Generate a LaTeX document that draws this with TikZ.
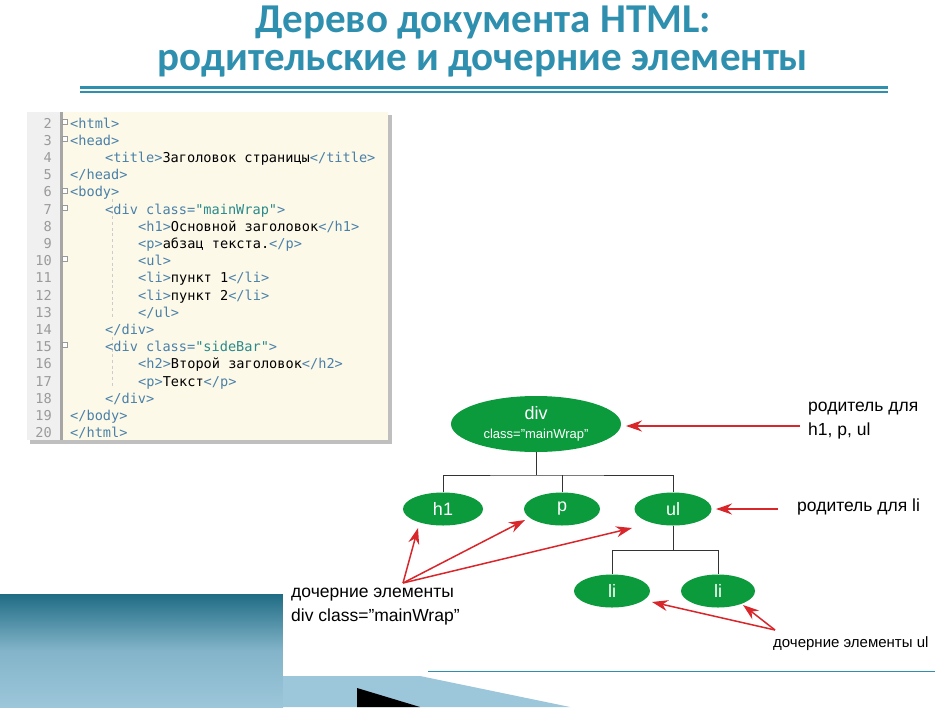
\documentclass[tikz,border=0pt]{standalone}
\usepackage{fontspec}
\setmainfont{Liberation Sans}
\newfontfamily\ttl{Carlito}
\newfontfamily\cmono{DejaVu Sans Mono}
\usetikzlibrary{shapes.geometric,arrows.meta,shadows}
\definecolor{teal1}{HTML}{2E8FAE}
\definecolor{tagc}{HTML}{4A80A8}
\definecolor{strc}{HTML}{2A8A8A}
\definecolor{gutt}{HTML}{9A9A9A}
\definecolor{gr}{HTML}{0B9A3C}
\definecolor{rd}{HTML}{D9262B}
\definecolor{paper}{HTML}{FDF9E9}
\definecolor{dteal}{HTML}{1F6C84}
\definecolor{lblue}{HTML}{9CC6DA}
\newcommand{\tg}[1]{\textcolor{tagc}{#1}}
\newcommand{\st}[1]{\textcolor{strc}{#1}}
\newcommand{\qd}{\symbol{34}}
\tikzset{
  codeln/.style={anchor=base west,inner sep=0pt,font=\cmono\fontsize{13.6}{14}\selectfont},
  lnum/.style={anchor=base east,inner sep=0pt,text=gutt,font=\cmono\fontsize{13.6}{14}\selectfont},
  elnode/.style={ellipse,fill=gr,text=white,inner sep=0pt,font=\fontsize{18}{20}\selectfont},
  tline/.style={draw=black!80,line width=1pt},
  redarr/.style={draw=rd,line width=1.5pt,-{Stealth[length=16pt,width=11pt]}},
  lbl/.style={anchor=north west,inner sep=0pt,font=\fontsize{17.5}{24}\selectfont,align=left}
}
\begin{document}
\begin{tikzpicture}[x=1pt,y=-1pt]
\useasboundingbox (0,0) rectangle (941,707);
\fill[white] (0,0) rectangle (941,707);
% title
\node[font=\ttl\bfseries\fontsize{41}{46}\selectfont,text=teal1] (t1) at (483,23) {Дерево документа HTML:};
\node[font=\ttl\bfseries\fontsize{41}{46}\selectfont,text=teal1] (t2) at (483,64) {родительские и дочерние элементы};
\fill[teal1] (80,86) rectangle (888,89);
\fill[teal1] (80,91) rectangle (888,93);
% code box
\fill[black!25] (30,115) rectangle (392,444);
\fill[paper] (27,112) rectangle (388,440);
\fill[black!6] (27,112) rectangle (60,440);
\fill[black!35] (60,112) rectangle (63,440);
\foreach \y in {7,8,9,10,11,12,13,15,16,17}{\draw[black!20,dashed] (112,{113+(\y-2)*17.2}) -- (112,{130+(\y-2)*17.2});}
\foreach \i in {2,...,20}{\node[lnum] (n\i) at (52,{128+(\i-2)*17.2}) {\i};}
\foreach \i in {2,3,6,7,10,15}{\draw[black!40,fill=white] (62,{119+(\i-2)*17.2}) rectangle +(5,5);}
\node[codeln] (c2) at (70,128) {\tg{<html>}};
\node[codeln] (c3) at (70,145.2) {\tg{<head>}};
\node[codeln] (c4) at (105,162.4) {\tg{<title>}Заголовок страницы\tg{</title>}};
\node[codeln] (c5) at (70,179.6) {\tg{</head>}};
\node[codeln] (c6) at (70,196.8) {\tg{<body>}};
\node[codeln] (c7) at (105,214) {\tg{<div class=}\st{"mainWrap"}\tg{>}};
\node[codeln] (c8) at (138,231.2) {\tg{<h1>}Основной заголовок\tg{</h1>}};
\node[codeln] (c9) at (138,248.4) {\tg{<p>}абзац текста.\tg{</p>}};
\node[codeln] (c10) at (138,265.6) {\tg{<ul>}};
\node[codeln] (c11) at (138,282.8) {\tg{<li>}пункт 1\tg{</li>}};
\node[codeln] (c12) at (138,300) {\tg{<li>}пункт 2\tg{</li>}};
\node[codeln] (c13) at (138,317.2) {\tg{</ul>}};
\node[codeln] (c14) at (105,334.4) {\tg{</div>}};
\node[codeln] (c15) at (105,351.6) {\tg{<div class=}\st{"sideBar"}\tg{>}};
\node[codeln] (c16) at (138,368.8) {\tg{<h2>}Второй заголовок\tg{</h2>}};
\node[codeln] (c17) at (138,386) {\tg{<p>}Текст\tg{</p>}};
\node[codeln] (c18) at (105,403.2) {\tg{</div>}};
\node[codeln] (c19) at (70,420.4) {\tg{</body>}};
\node[codeln] (c20) at (70,437.6) {\tg{</html>}};
% bottom-left decoration
\shade[top color=dteal,bottom color=lblue,middle color=lblue!80!dteal] (0,594) rectangle (283,707);
\fill[lblue] (283,676) -- (420,676) -- (570,707) -- (283,707) -- cycle;
\fill[white] (283,594) rectangle (941,676);
\fill[black] (357,688) -- (357,707) -- (420,707) -- cycle;
\draw[teal1,line width=1pt] (428,671) -- (935,671);
% tree
\node[elnode,minimum width=170pt,minimum height=56pt,align=center] (div) at (536,424) {div\\[-1pt]{\fontsize{13}{15}\selectfont class=\qd mainWrap\qd}};
\node[elnode,minimum width=80pt,minimum height=33pt] (h1) at (443,509) {h1};
\node[elnode,minimum width=76pt,minimum height=33pt] (p) at (562,509) {p};
\node[elnode,minimum width=77pt,minimum height=33pt] (ul) at (673,509) {ul};
\node[elnode,minimum width=76pt,minimum height=33pt] (li1) at (612,591) {li};
\node[elnode,minimum width=74pt,minimum height=33pt] (li2) at (718,591) {li};
\coordinate (b1) at (536,475);
\draw[tline] (div.south) -- (b1);
\draw[tline] (h1.north) |- (b1) -| (ul.north);
\draw[tline] (p.north) -- (p.north |- b1);
\coordinate (b2) at (673,550);
\draw[tline] (ul.south) -- (b2);
\draw[tline] (li1.north) |- (b2) -| (li2.north);
% labels
\node[lbl] (L1) at (808,402) {родитель для\\h1, p, ul};
\node[lbl] (L2) at (797,499) {родитель для li};
\node[lbl] (L3) at (291,588) {дочерние элементы\\div class=\qd mainWrap\qd};
\node[lbl,font=\fontsize{15}{17}\selectfont] (L4) at (773,636) {дочерние элементы ul};
\coordinate (a1) at (800,426);
\draw[redarr] (a1) -- (626,426);
\coordinate (a2) at (778,509);
\draw[redarr] (a2) -- (716,509);
\coordinate (a3) at (403,583);
\draw[redarr] (a3) -- (418,528);
\draw[redarr] (a3) -- (525,520);
\draw[redarr] (a3) -- (632,528);
\coordinate (a4) at (775,630);
\draw[redarr] (a4) -- (652,602);
\draw[redarr] (a4) -- (743,605);
\end{tikzpicture}
\end{document}
